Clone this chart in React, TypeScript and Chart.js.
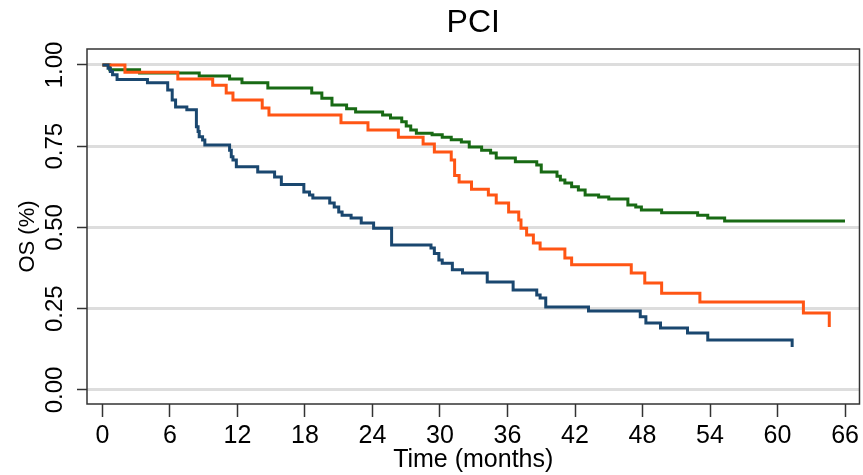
import React, { useEffect, useRef } from 'react';
import { Chart, registerables } from 'chart.js';

Chart.register(...registerables);

const chartTitle = 'PCI';
const xAxisTitle = 'Time (months)';
const yAxisTitle = 'OS (%)';
const xTickValues = [0, 6, 12, 18, 24, 30, 36, 42, 48, 54, 60, 66];
const yTickValues = [0, 0.25, 0.5, 0.75, 1];

const blueTimes = [0, 0.5, 0.7, 0.9, 1.3, 4.0, 5.8, 6.2, 6.5, 7.5, 8.35, 8.5, 8.6, 8.9, 9.1, 11.3, 11.45, 11.6, 11.9, 13.8, 15.3, 15.9, 17.9, 18.4, 18.7, 20.2, 20.6, 21.0, 21.3, 22.1, 23.0, 24.1, 25.7, 29.2, 29.5, 29.9, 30.2, 31.1, 32.0, 34.2, 36.5, 38.6, 38.9, 39.4, 43.2, 47.8, 48.3, 49.6, 52.0, 53.8, 61.3];
const blueSurv = [1.0, 0.99, 0.98, 0.97, 0.955, 0.945, 0.923, 0.892, 0.871, 0.862, 0.81, 0.795, 0.779, 0.769, 0.754, 0.738, 0.718, 0.708, 0.687, 0.671, 0.655, 0.632, 0.609, 0.60, 0.591, 0.575, 0.563, 0.548, 0.538, 0.529, 0.514, 0.498, 0.446, 0.437, 0.42, 0.40, 0.39, 0.37, 0.36, 0.332, 0.308, 0.292, 0.283, 0.255, 0.243, 0.225, 0.206, 0.191, 0.175, 0.154, 0.132];

const orangeTimes = [0, 2.0, 6.7, 9.8, 11.0, 11.6, 14.2, 14.8, 21.2, 23.6, 26.3, 28.5, 29.5, 31.0, 31.3, 31.7, 32.8, 34.3, 35.0, 36.1, 37.0, 37.2, 37.7, 38.3, 38.9, 41.1, 41.7, 47.0, 48.2, 49.7, 53.1, 62.3, 64.6];
const orangeSurv = [1.0, 0.978, 0.957, 0.938, 0.914, 0.892, 0.868, 0.846, 0.822, 0.80, 0.778, 0.757, 0.732, 0.708, 0.66, 0.64, 0.618, 0.60, 0.575, 0.548, 0.523, 0.498, 0.477, 0.452, 0.434, 0.406, 0.385, 0.36, 0.329, 0.298, 0.271, 0.237, 0.194];

const greenTimes = [0, 0.65, 3.3, 8.6, 11.3, 12.4, 14.7, 18.6, 19.5, 20.4, 21.7, 22.5, 24.9, 25.6, 26.6, 27.0, 27.4, 27.9, 29.3, 30.2, 31.0, 31.9, 32.6, 33.7, 34.5, 35.0, 36.7, 38.6, 39.0, 40.4, 40.7, 41.1, 41.7, 42.3, 42.9, 44.1, 45.0, 46.7, 47.4, 47.9, 49.7, 52.9, 53.8, 55.3, 66.0];
const greenSurv = [1.0, 0.985, 0.975, 0.966, 0.957, 0.945, 0.929, 0.914, 0.898, 0.877, 0.865, 0.855, 0.846, 0.837, 0.825, 0.812, 0.80, 0.79, 0.785, 0.778, 0.77, 0.763, 0.748, 0.738, 0.729, 0.714, 0.702, 0.692, 0.671, 0.658, 0.646, 0.637, 0.625, 0.615, 0.60, 0.594, 0.588, 0.569, 0.563, 0.554, 0.545, 0.538, 0.529, 0.52, 0.52];

const FONT = "'Liberation Sans', Arial, sans-serif";

const toPoints = (t: number[], s: number[]) => t.map((x, i) => ({ x, y: s[i] }));

const framePlugin = {
  id: 'frameAndYTitle',
  afterDraw(chart: any) {
    const { ctx, chartArea: a } = chart;
    ctx.save();
    ctx.strokeStyle = '#333333';
    ctx.lineWidth = 1.5;
    ctx.strokeRect(a.left, a.top, a.right - a.left, a.bottom - a.top);
    ctx.translate(28, (a.top + a.bottom) / 2 + 10);
    ctx.rotate(-Math.PI / 2);
    ctx.font = `22px ${FONT}`;
    ctx.fillStyle = '#000';
    ctx.textAlign = 'center';
    ctx.textBaseline = 'middle';
    ctx.fillText(yAxisTitle, 0, 0);
    ctx.restore();
  },
};

export default function App() {
  const ref = useRef<HTMLCanvasElement>(null);
  useEffect(() => {
    const canvas = ref.current;
    if (!canvas) return;
    const chart = new Chart(canvas, {
      type: 'line',
      data: {
        datasets: [
          { label: 'blue', data: toPoints(blueTimes, blueSurv), borderColor: '#1a476f' },
          { label: 'orange', data: toPoints(orangeTimes, orangeSurv), borderColor: '#ff5514' },
          { label: 'green', data: toPoints(greenTimes, greenSurv), borderColor: '#186a14' },
        ].map((d) => ({ ...d, stepped: 'before' as const, borderWidth: 3, pointRadius: 0, fill: false, tension: 0 })),
      },
      options: {
        animation: false,
        responsive: false,
        maintainAspectRatio: false,
        devicePixelRatio: 1,
        layout: { padding: { left: 0, right: 1, top: 0, bottom: 0 } },
        plugins: {
          legend: { display: false },
          tooltip: { enabled: false },
          title: {
            display: true,
            text: chartTitle,
            fullSize: false,
            color: '#000',
            font: { family: FONT, size: 32, weight: 'normal' },
            padding: { top: 4, bottom: 6.6 },
          },
        },
        scales: {
          x: {
            type: 'linear',
            min: -1.373,
            max: 67.285,
            afterBuildTicks: (s: any) => { s.ticks = xTickValues.map((value) => ({ value })); },
            afterFit: (s: any) => { s.height = 71; },
            border: { display: false },
            grid: { drawOnChartArea: false, drawTicks: true, tickLength: 13, tickColor: '#333', tickWidth: 1.5 },
            ticks: {
              autoSkip: false,
              maxRotation: 0,
              minRotation: 0,
              padding: 4,
              color: '#000',
              font: { family: FONT, size: 25 },
              callback: (v: any) => String(v),
            },
            title: {
              display: true,
              text: xAxisTitle,
              color: '#000',
              font: { family: FONT, size: 25 },
              padding: { top: 0, bottom: 0 },
            },
          },
          y: {
            type: 'linear',
            min: -0.0431,
            max: 1.0492,
            afterBuildTicks: (s: any) => { s.ticks = yTickValues.map((value) => ({ value })); },
            afterFit: (s: any) => { s.width = 87; },
            border: { display: false },
            grid: { color: '#dddddd', lineWidth: 3, drawTicks: true, tickLength: 10, tickColor: '#333', tickWidth: 1.5 },
            ticks: {
              autoSkip: false,
              minRotation: 90,
              maxRotation: 90,
              crossAlign: 'center',
              padding: -2,
              color: '#000',
              font: { family: FONT, size: 24 },
              callback: (v: any) => Number(v).toFixed(2),
            },
            title: { display: false },
          },
        },
      },
      plugins: [framePlugin],
    } as any);
    return () => chart.destroy();
  }, []);
  return (
    <div style={{ position: 'fixed', left: 0, top: 0, width: 863, height: 475, background: '#fff' }}>
      <canvas ref={ref} width={863} height={475} style={{ display: 'block', width: 863, height: 475 }} />
    </div>
  );
}
